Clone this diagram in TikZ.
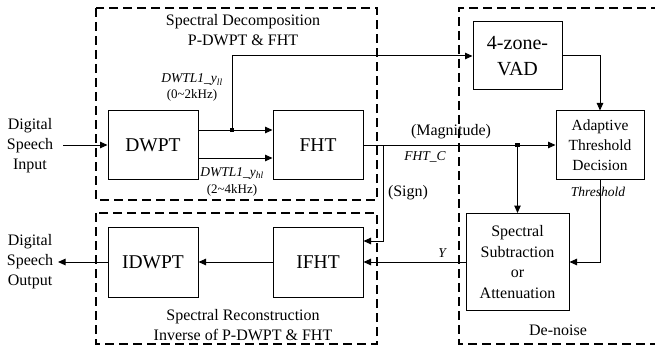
\documentclass[tikz,border=0pt]{standalone}
\usepackage{fontspec}
\setmainfont{Liberation Serif}
\usetikzlibrary{arrows.meta}

\tikzset{
  block/.style={draw, line width=1pt, inner sep=2pt, align=center,
                font=\fontsize{19.5}{24}\selectfont},
  smallblock/.style={draw, line width=1pt, inner sep=2pt, align=center,
                font=\fontsize{15.5}{20}\selectfont},
  groupbox/.style={draw, line width=1.4pt, dash pattern=on 9pt off 5pt},
  arr/.style={line width=1pt, -{Triangle[length=7.5pt,width=6.5pt]}},
  wire/.style={line width=1pt},
  dot/.style={rectangle, fill, inner sep=0pt, minimum size=4.5pt},
  plain/.style={align=center, inner sep=0pt, font=\fontsize{16}{20}\selectfont},
  sig/.style={align=center, inner sep=0pt, font=\fontsize{13}{15}\selectfont},
  sigit/.style={inner sep=0pt, font=\fontsize{13.5}{15}\selectfont\itshape},
}

\begin{document}
\begin{tikzpicture}[x=1pt, y=-1pt]
\useasboundingbox (0,0) rectangle (655,350);

% group frames
\draw[groupbox] (96,8) rectangle (377,200);
\draw[groupbox] (96,213) rectangle (377,344);
\draw[groupbox] (660,8) -- (459,8) -- (459,344) -- (660,344);

% processing blocks
\node[block, minimum width=90pt, minimum height=68pt] (dwpt) at (153,145) {DWPT};
\node[block, minimum width=90pt, minimum height=68pt] (fht) at (318,145) {FHT};
\node[block, minimum width=90pt, minimum height=70pt] (idwpt) at (153,262) {IDWPT};
\node[block, minimum width=90pt, minimum height=70pt] (ifht) at (318,262) {IFHT};
\node[block, minimum width=89pt, minimum height=68pt, font=\fontsize{20}{26}\selectfont] (vad) at (517.5,56) {4-zone-\\VAD};
\node[smallblock, minimum width=88pt, minimum height=68pt] (dec) at (600,145) {Adaptive\\Threshold\\Decision};
\node[smallblock, minimum width=103pt, minimum height=97pt, font=\fontsize{16}{20.5}\selectfont] (sub) at (517.5,262) {Spectral\\Subtraction\\or\\Attenuation};

% group titles and free text
\node[plain] (ttl1) at (243,30) {Spectral Decomposition\\P-DWPT \& FHT};
\node[plain] (ttl2) at (243,325) {Spectral Reconstruction\\Inverse of P-DWPT \& FHT};
\node[plain] (ttl3) at (558,330) {De-noise};
\node[plain] (inlbl) at (30,146) {Digital\\Speech\\Input};
\node[plain] (outlbl) at (30,262) {Digital\\Speech\\Output};

% end points of the speech path
\coordinate (in) at (63,145);
\coordinate (out) at (58,262);

% branch points
\coordinate (j1) at (232,130);
\coordinate (j2) at (sub.north |- fht.east);
\coordinate (s1) at (383,145);

% connectors
\draw[arr] (in) -- (dwpt.west);
\draw[arr] ([yshift=15pt]dwpt.east) -- ([yshift=15pt]fht.west);
\draw[arr] ([yshift=-13pt]dwpt.east) -- ([yshift=-13pt]fht.west);
\draw[arr] (j1) |- (vad.west);
\draw[arr] (vad.east) -| (dec.north);
\draw[arr] (fht.east) -- (dec.west);
\draw[arr] (j2) -- (sub.north);
\draw[arr] (s1) |- ([yshift=21pt]ifht.east);
\draw[arr] (dec.south) |- (sub.east);
\draw[arr] (sub.west) -- (ifht.east);
\draw[arr] (ifht.west) -- (idwpt.east);
\draw[arr] (idwpt.west) -- (out);

\node[dot] (d1) at (j1) {};
\node[dot] (d2) at (j2) {};

% signal labels
\node[sigit] (lll) at (192,80) {DWTL1\_y\textsubscript{ll}};
\node[sig] (lllb) at (192,95) {(0\textasciitilde 2kHz)};
\node[sigit] (lhl) at (232,173) {DWTL1\_y\textsubscript{hl}};
\node[sig] (lhlb) at (232,190) {(2\textasciitilde 4kHz)};
\node[plain] (mag) at (451,132) {(Magnitude)};
\node[sigit] (fhtc) at (425,157) {FHT\_C};
\node[plain] (sign) at (408,193) {(Sign)};
\node[sigit] (ylbl) at (442,253) {Y};
\node[sigit] (thr) at (598,192) {Threshold};
\end{tikzpicture}
\end{document}
